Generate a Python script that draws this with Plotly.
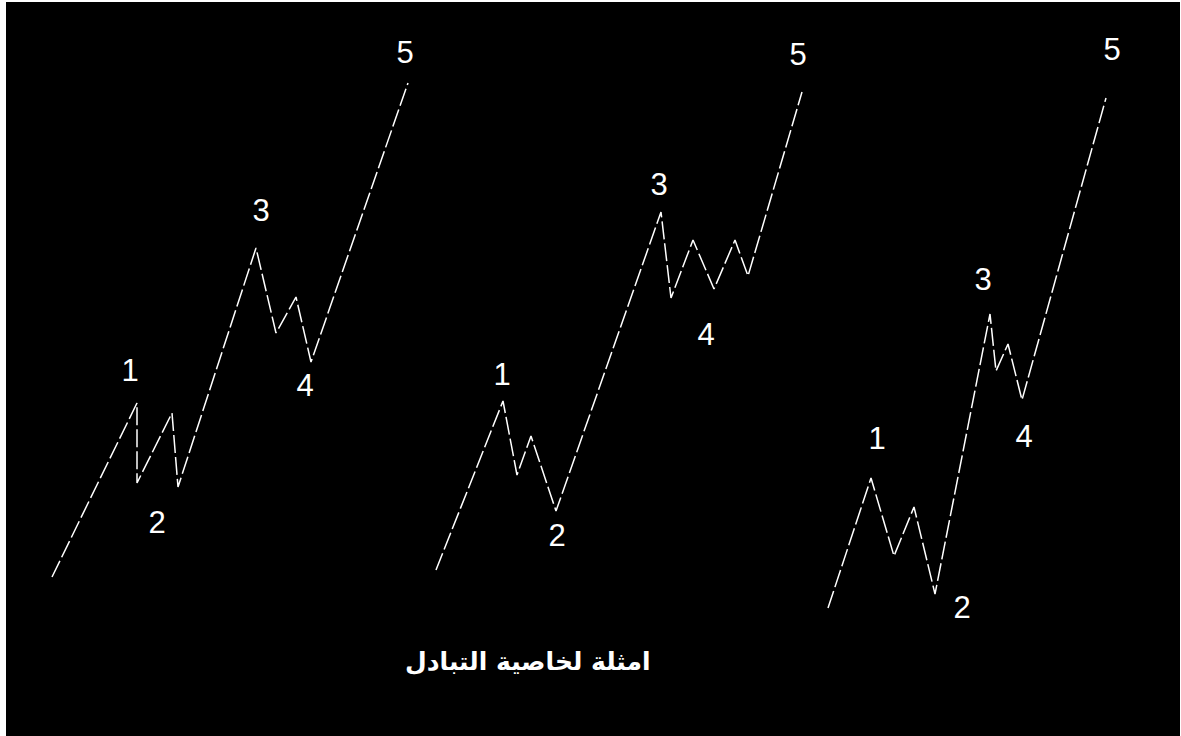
import plotly.graph_objects as go

# Wave pivot points (picture coordinates: x to the right, y downward)
wave1_x = [52, 137, 137, 172, 178, 256, 276, 296, 311, 408]
wave1_y = [577, 403, 483, 413, 487, 248, 333, 297, 362, 83]
wave2_x = [436, 503, 517, 531, 556, 661, 671, 693, 714, 735, 748, 802]
wave2_y = [570, 401, 475, 436, 511, 212, 298, 240, 289, 240, 276, 92]
wave3_x = [828, 871, 894, 914, 935, 990, 996, 1008, 1022, 1106]
wave3_y = [608, 478, 556, 507, 594, 314, 371, 344, 400, 98]

# Wave labels
label_text = ["1", "2", "3", "4", "5"]
label1_x = [130, 157, 261, 305, 405]
label1_y = [373, 525, 213, 388, 55]
label2_x = [502, 557, 659, 706, 798]
label2_y = [377, 538, 187, 337, 57]
label3_x = [877, 962, 983, 1024, 1112]
label3_y = [441, 610, 282, 439, 52]

caption = "امثلة لخاصية التبادل"
caption_x = 528
caption_y = 661

W, H = 1181, 736

fig = go.Figure()

line_style = dict(color="white", width=1.5, dash="18px,4px")
for xs, ys in [(wave1_x, wave1_y), (wave2_x, wave2_y), (wave3_x, wave3_y)]:
    fig.add_trace(go.Scatter(x=xs, y=ys, mode="lines", line=line_style,
                             hoverinfo="skip", showlegend=False))

for xs, ys in [(label1_x, label1_y), (label2_x, label2_y), (label3_x, label3_y)]:
    fig.add_trace(go.Scatter(x=xs, y=ys, mode="text", text=label_text,
                             textposition="middle center",
                             textfont=dict(family="Liberation Sans, Arial", size=31, color="white"),
                             hoverinfo="skip", showlegend=False))

fig.add_annotation(x=caption_x, y=caption_y, xref="x", yref="y",
                   text="<b>" + caption + "</b>",
                   showarrow=False,
                   font=dict(family="DejaVu Sans, Noto Sans", size=25, color="white"))

# black panel with thin white frame
fig.add_shape(type="rect", xref="x", yref="y", x0=6, x1=1180, y0=2, y1=736,
              fillcolor="black", line=dict(width=0), layer="below")

fig.update_layout(
    width=W, height=H, autosize=False,
    margin=dict(l=0, r=0, t=0, b=0, pad=0),
    paper_bgcolor="white", plot_bgcolor="white",
    xaxis=dict(range=[0, W], visible=False, fixedrange=True),
    yaxis=dict(range=[H, 0], visible=False, fixedrange=True),
    showlegend=False,
)

fig.write_html("out.html", config={"displayModeBar": False},
               post_script="document.body.style.margin='0';document.body.style.overflow='hidden';")
